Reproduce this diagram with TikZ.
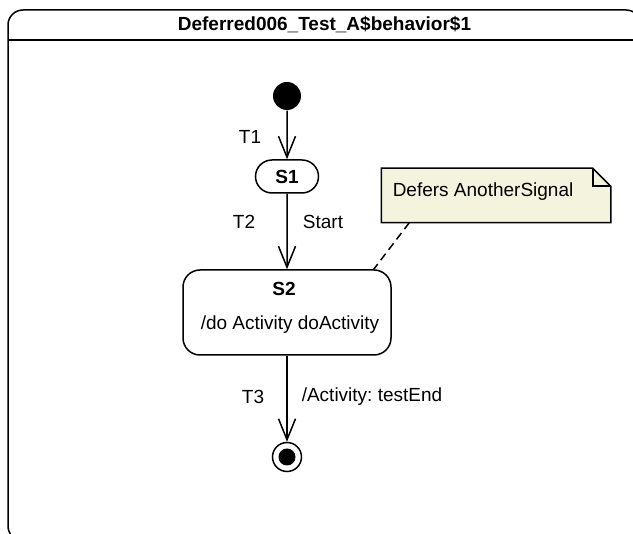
\documentclass[tikz,border=0pt]{standalone}
\usepackage{fontspec}
\setmainfont{Liberation Sans}
\usetikzlibrary{arrows.meta,shapes.misc}
\definecolor{notefill}{RGB}{244,244,222}
\frenchspacing
\tikzset{
  statebox/.style={draw, rounded corners=17pt, minimum width=208pt, minimum height=85pt, inner sep=0pt},
  pseudo/.style={circle, inner sep=0pt, minimum size=28pt},
  lbl/.style={inner sep=0pt}
}
\begin{document}
\begin{tikzpicture}[x=1pt, y=-1pt, >={Straight Barb[length=21pt,width=17pt]},
  line width=1.5pt, font=\fontsize{19}{23}\selectfont]
\useasboundingbox (0,0) rectangle (633,534);
\clip (0,0) rectangle (633,534);
% frame of the state machine
\draw[rounded corners=15pt] (8,10) rectangle (641,541);
\draw (8,40) -- (641,40);
\node[lbl, font=\fontsize{19}{23}\selectfont\bfseries] (title) at (324.5,25) {Deferred006\_Test\_A\$behavior\$1};
% states
\node[pseudo, fill] (init) at (287,96) {};
\node[draw, rounded rectangle, minimum width=63pt, minimum height=33pt, inner sep=0pt, font=\fontsize{19}{23}\selectfont\bfseries] (S1) at (287,176.5) {S1};
\node[statebox] (S2) at (287,312.5) {};
\node[lbl, font=\fontsize{19}{23}\selectfont\bfseries] (S2name) at (284,289) {S2};
\node[lbl] (S2do) at (290,325) {/do Activity doActivity};
\node[pseudo, draw, minimum size=29pt] (fin) at (287,457) {};
\fill (fin.center) circle (8.5pt);
% note
\node[lbl, minimum width=228pt, minimum height=53pt] (note) at (496,195.5) {};
\draw[fill=notefill] (note.south west) -- (note.north west) -- ([xshift=-18pt]note.north east)
  -- ([yshift=-18pt]note.north east) -- (note.south east) -- cycle;
\draw ([xshift=-18pt]note.north east) -- ([xshift=-18pt,yshift=-18pt]note.north east) -- ([yshift=-18pt]note.north east);
\node[lbl, anchor=west] (notetext) at (392,192) {Defers AnotherSignal};
\draw[dashed, dash pattern=on 8pt off 5pt] ([xshift=28pt]note.south west) -- ([xshift=-18pt]S2.north east);
% transitions
\draw[->] (init) -- (S1);
\draw[->] (S1) -- (S2);
\draw[->] (S2) -- (fin);
\node[lbl] (t1) at (250,137) {T1};
\node[lbl] (t2) at (244,222) {T2};
\node[lbl] (start) at (323,222) {Start};
\node[lbl] (t3) at (253,397) {T3};
\node[lbl] (eff) at (372,397) {/Activity: testEnd};
\end{tikzpicture}
\end{document}
